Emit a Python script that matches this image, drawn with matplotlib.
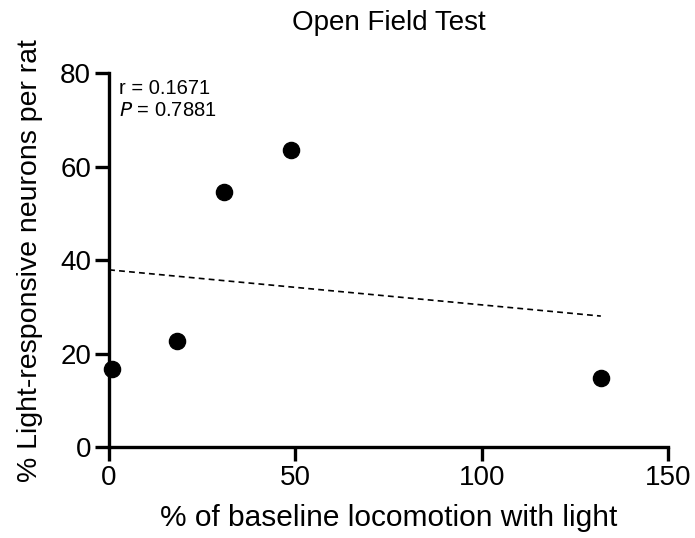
import numpy as np
import matplotlib
matplotlib.use("Agg")
import matplotlib.pyplot as plt

plt.rcParams['font.family'] = ['Liberation Sans', 'DejaVu Sans']

locomotion = [0.9, 18.2, 30.9, 48.8, 132.0]
responsive = [16.6, 22.8, 54.5, 63.6, 14.8]
x_ticks = [0, 50, 100, 150]
y_ticks = [0, 20, 40, 60, 80]
r_text = "r = 0.1671"
p_value = "0.7881"

fig = plt.figure(figsize=(6.95, 5.38), dpi=100)
ax = fig.add_axes([0.157, 0.169, 0.804, 0.695])

slope, intercept = np.polyfit(locomotion, responsive, 1)
xl = np.array([0, max(locomotion)])
ax.plot(xl, slope * xl + intercept, color='black', linestyle=(0, (3.5, 2.5)), linewidth=1.2)
ax.scatter(locomotion, responsive, s=135, color='black', zorder=3, clip_on=False)

ax.set_xlim(0, 150)
ax.set_ylim(0, 80)
ax.set_xticks(x_ticks)
ax.set_yticks(y_ticks)
for s in ['top', 'right']:
    ax.spines[s].set_visible(False)
for s in ['left', 'bottom']:
    ax.spines[s].set_linewidth(2.4)
ax.tick_params(width=2.4, length=10, labelsize=20, direction='out', pad=3)

ax.set_xlabel('% of baseline locomotion with light', fontsize=21.5, labelpad=9)
ax.set_ylabel('% Light-responsive neurons per rat', fontsize=20.5, labelpad=12)
ax.set_title('Open Field Test', fontsize=20, pad=31)

ax.text(0.018, 0.985, r_text, transform=ax.transAxes, fontsize=14.5, va='top')
ax.text(0.018, 0.925, r"$\it{P}$ = " + p_value, transform=ax.transAxes, fontsize=14.5, va='top')

fig.savefig('out.png', dpi=100)
